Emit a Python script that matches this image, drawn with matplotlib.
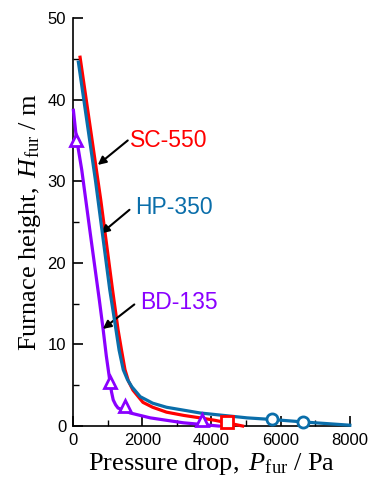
import numpy as np
import matplotlib
matplotlib.use('Agg')
import matplotlib.pyplot as plt
from matplotlib.ticker import MultipleLocator

# data (pressure drop in Pa, height in m)
sc_p = [202, 800, 1140, 1300, 1400, 1500, 1600, 1730, 2020, 2300, 2700, 3200, 3670, 4100, 4450, 4900]
sc_h = [45.2, 27.7, 16.7, 11.8, 9.3, 6.9, 5.5, 4.4, 2.9, 2.3, 1.7, 1.3, 1.0, 0.7, 0.4, 0.0]

hp_p = [153, 650, 1060, 1240, 1330, 1450, 1570, 1700, 1940, 2300, 2700, 3670, 5030, 5750, 6650, 8000]
hp_h = [44.6, 30.0, 16.7, 11.8, 9.3, 6.9, 5.7, 4.8, 3.6, 2.8, 2.3, 1.6, 1.0, 0.8, 0.5, 0.1]

bd_p = [9, 90, 250, 500, 760, 870, 960, 1020, 1070, 1110, 1160, 1230, 1300, 1500, 1650, 2230, 3180, 4200]
bd_h = [38.7, 35.5, 31.4, 23.5, 15.4, 11.8, 8.6, 6.8, 5.3, 4.2, 3.2, 2.6, 2.2, 1.9, 1.6, 1.0, 0.4, 0.0]

# measured points
sc_mp, sc_mh = [4450], [0.45]
hp_mp, hp_mh = [5750, 6650], [0.85, 0.5]
bd_mp, bd_mh = [90, 1070, 1500, 3730], [35.0, 5.4, 2.5, 0.7]

red = '#ff0000'
blue = '#0a6eaa'
purple = '#8a00ff'

plt.rcParams['font.family'] = 'Liberation Sans'
plt.rcParams['mathtext.fontset'] = 'custom'
plt.rcParams['mathtext.rm'] = 'Liberation Serif'
plt.rcParams['mathtext.it'] = 'Liberation Serif:italic'

fig = plt.figure(figsize=(3.71, 4.88), dpi=100)
ax = fig.add_axes([0.197, 0.127, 0.746, 0.836])

ax.plot(sc_p, sc_h, color=red, lw=2.3, clip_on=False, zorder=3)
ax.plot(hp_p, hp_h, color=blue, lw=2.3, clip_on=False, zorder=4)
ax.plot(bd_p, bd_h, color=purple, lw=2.3, clip_on=False, zorder=3)

ax.plot(sc_mp, sc_mh, 's', ms=8, mfc='white', mec=red, mew=2, clip_on=False, zorder=5)
ax.plot(hp_mp, hp_mh, 'o', ms=8, mfc='white', mec=blue, mew=2, clip_on=False, zorder=5)
ax.plot(bd_mp, bd_mh, '^', ms=8, mfc='white', mec=purple, mew=2, clip_on=False, zorder=5)

# labels and arrows
arrow = dict(arrowstyle='-|>', color='black', lw=1.5, mutation_scale=12, shrinkA=0, shrinkB=0)
ax.annotate('', xy=(714, 32.0), xytext=(1580, 35.0), arrowprops=arrow)
ax.annotate('', xy=(810, 23.6), xytext=(1630, 26.5), arrowprops=arrow)
ax.annotate('', xy=(860, 11.9), xytext=(1770, 14.9), arrowprops=arrow)
ax.text(1650, 35.0, 'SC-550', color=red, fontsize=16.5, va='center', ha='left')
ax.text(1790, 26.8, 'HP-350', color=blue, fontsize=16.5, va='center', ha='left')
ax.text(1940, 15.2, 'BD-135', color=purple, fontsize=16.5, va='center', ha='left')

ax.set_xlim(0, 8000)
ax.set_ylim(0, 50)
ax.xaxis.set_major_locator(MultipleLocator(2000))
ax.xaxis.set_minor_locator(MultipleLocator(1000))
ax.yaxis.set_major_locator(MultipleLocator(10))
ax.yaxis.set_minor_locator(MultipleLocator(5))
ax.tick_params(which='major', direction='in', length=7, width=1.2, labelsize=12, pad=5)
ax.tick_params(which='minor', direction='in', length=4, width=1.0)
ax.spines['top'].set_visible(False)
ax.spines['right'].set_visible(False)
for s in ['left', 'bottom']:
    ax.spines[s].set_linewidth(1.2)

ax.set_xlabel(r'$\mathrm{Pressure\ drop,}\ P_{\mathrm{fur}}\ \mathrm{/\ Pa}$', fontsize=19, labelpad=2)
ax.set_ylabel(r'$\mathrm{Furnace\ height,}\ H_{\mathrm{fur}}\ \mathrm{/\ m}$', fontsize=19, labelpad=3)

plt.savefig('out.png', dpi=100)
